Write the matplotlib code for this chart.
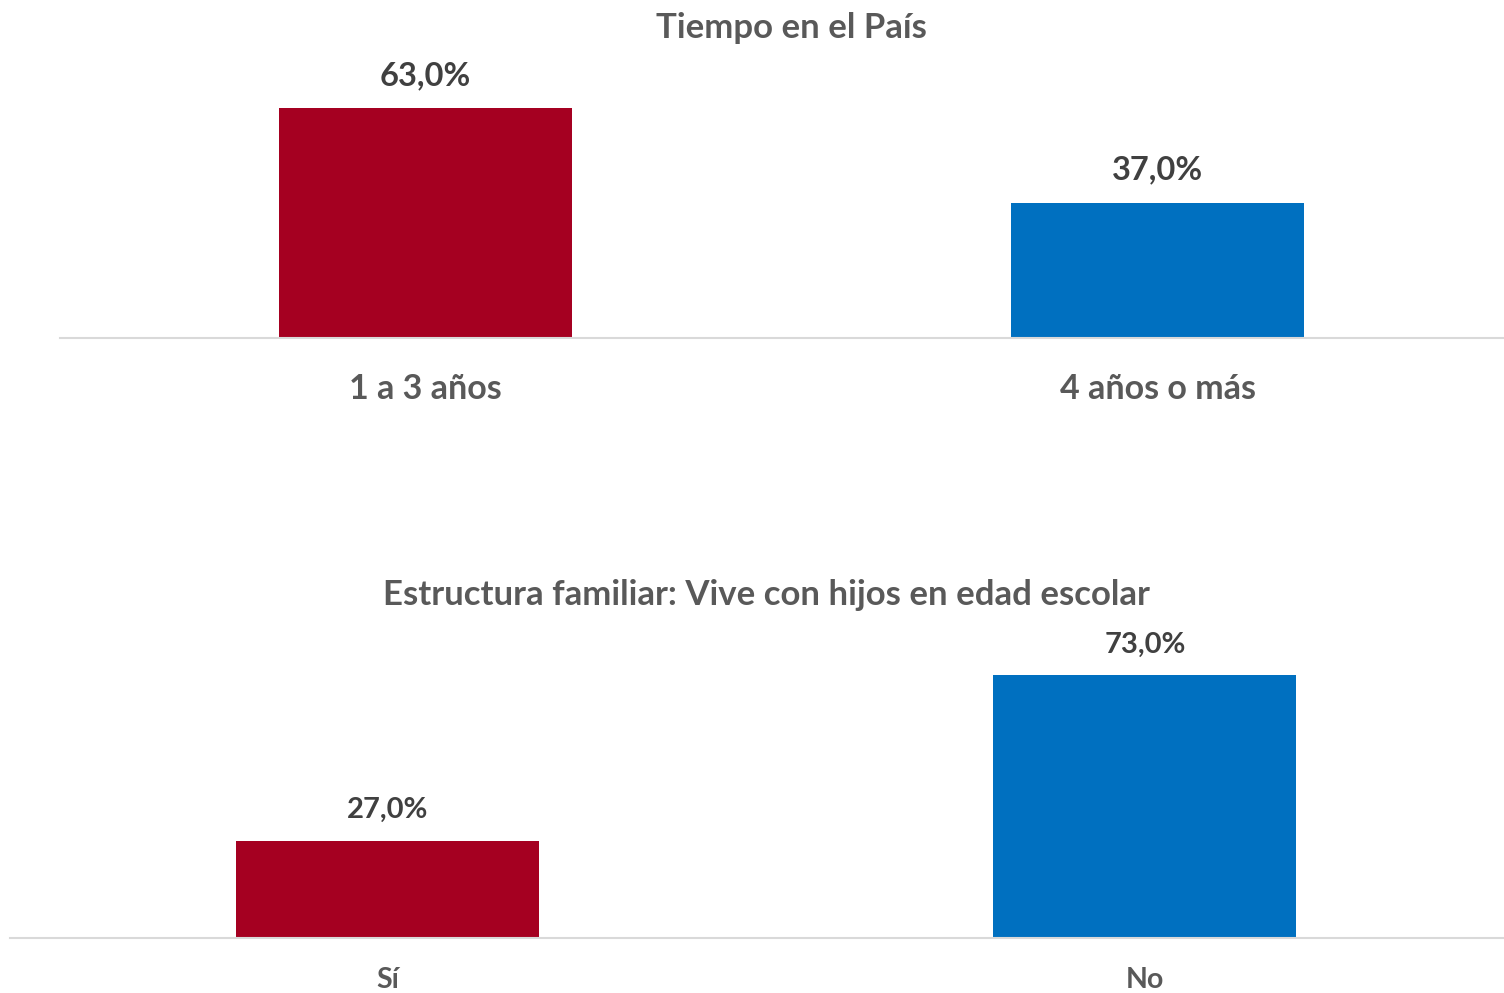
import matplotlib
matplotlib.use("Agg")
import matplotlib.pyplot as plt

# data
top_title = "Tiempo en el País"
top_cats = ["1 a 3 años", "4 años o más"]
top_vals = [63.0, 37.0]

bot_title = "Estructura familiar: Vive con hijos en edad escolar"
bot_cats = ["Sí", "No"]
bot_vals = [27.0, 73.0]

bar_colors = ["#A50021", "#0070C0"]

plt.rcParams['font.family'] = ['Lato', 'DejaVu Sans']
plt.rcParams['font.weight'] = 'bold'

W, H = 1504, 993
fig = plt.figure(figsize=(W / 100, H / 100), dpi=100)


def px_axes(x0, x1, ytop, ybase):
    return fig.add_axes([x0 / W, 1 - ybase / H, (x1 - x0) / W, (ybase - ytop) / H])


def draw_panel(ax, cats, vals, title, xlim, ylim, fs_val, val_off, fs_tick, tick_pad,
               fs_title, title_xy):
    xs = list(range(len(cats)))
    ax.bar(xs, vals, width=0.4, color=bar_colors, zorder=2)
    for x, v in zip(xs, vals):
        ax.annotate(f"{v:.1f}%".replace(".", ","), (x, v), xytext=(0, val_off),
                    textcoords="offset points", ha="center", va="center",
                    fontsize=fs_val, color="#404040", fontweight="bold")
    ax.set_xlim(*xlim)
    ax.set_ylim(*ylim)
    ax.set_xticks(xs)
    ax.set_xticklabels(cats, fontsize=fs_tick, color="#595959", fontweight="bold")
    ax.tick_params(axis="x", length=0, pad=tick_pad)
    ax.set_yticks([])
    for s in ["top", "left", "right"]:
        ax.spines[s].set_visible(False)
    ax.spines["bottom"].set_color("#D9D9D9")
    ax.spines["bottom"].set_linewidth(1.5)
    ax.patch.set_alpha(0)
    fig.text(title_xy[0] / W, 1 - title_xy[1] / H, title, ha="center", va="center",
             fontsize=fs_title, color="#595959", fontweight="bold")


ax1 = px_axes(60, 1504, 60, 338)
draw_panel(ax1, top_cats, top_vals, top_title, (-0.499, 1.473),
           (0, (338 - 60) / 3.65), 23.5, 23.5, 24.5, 25, 25, (791, 28))

ax2 = px_axes(10, 1504, 620, 938)
draw_panel(ax2, bot_cats, bot_vals, bot_title, (-0.498, 1.474),
           (0, (938 - 620) / 3.6), 21, 22, 20.5, 21, 25, (766, 595))

fig.savefig("out.png", dpi=100)
